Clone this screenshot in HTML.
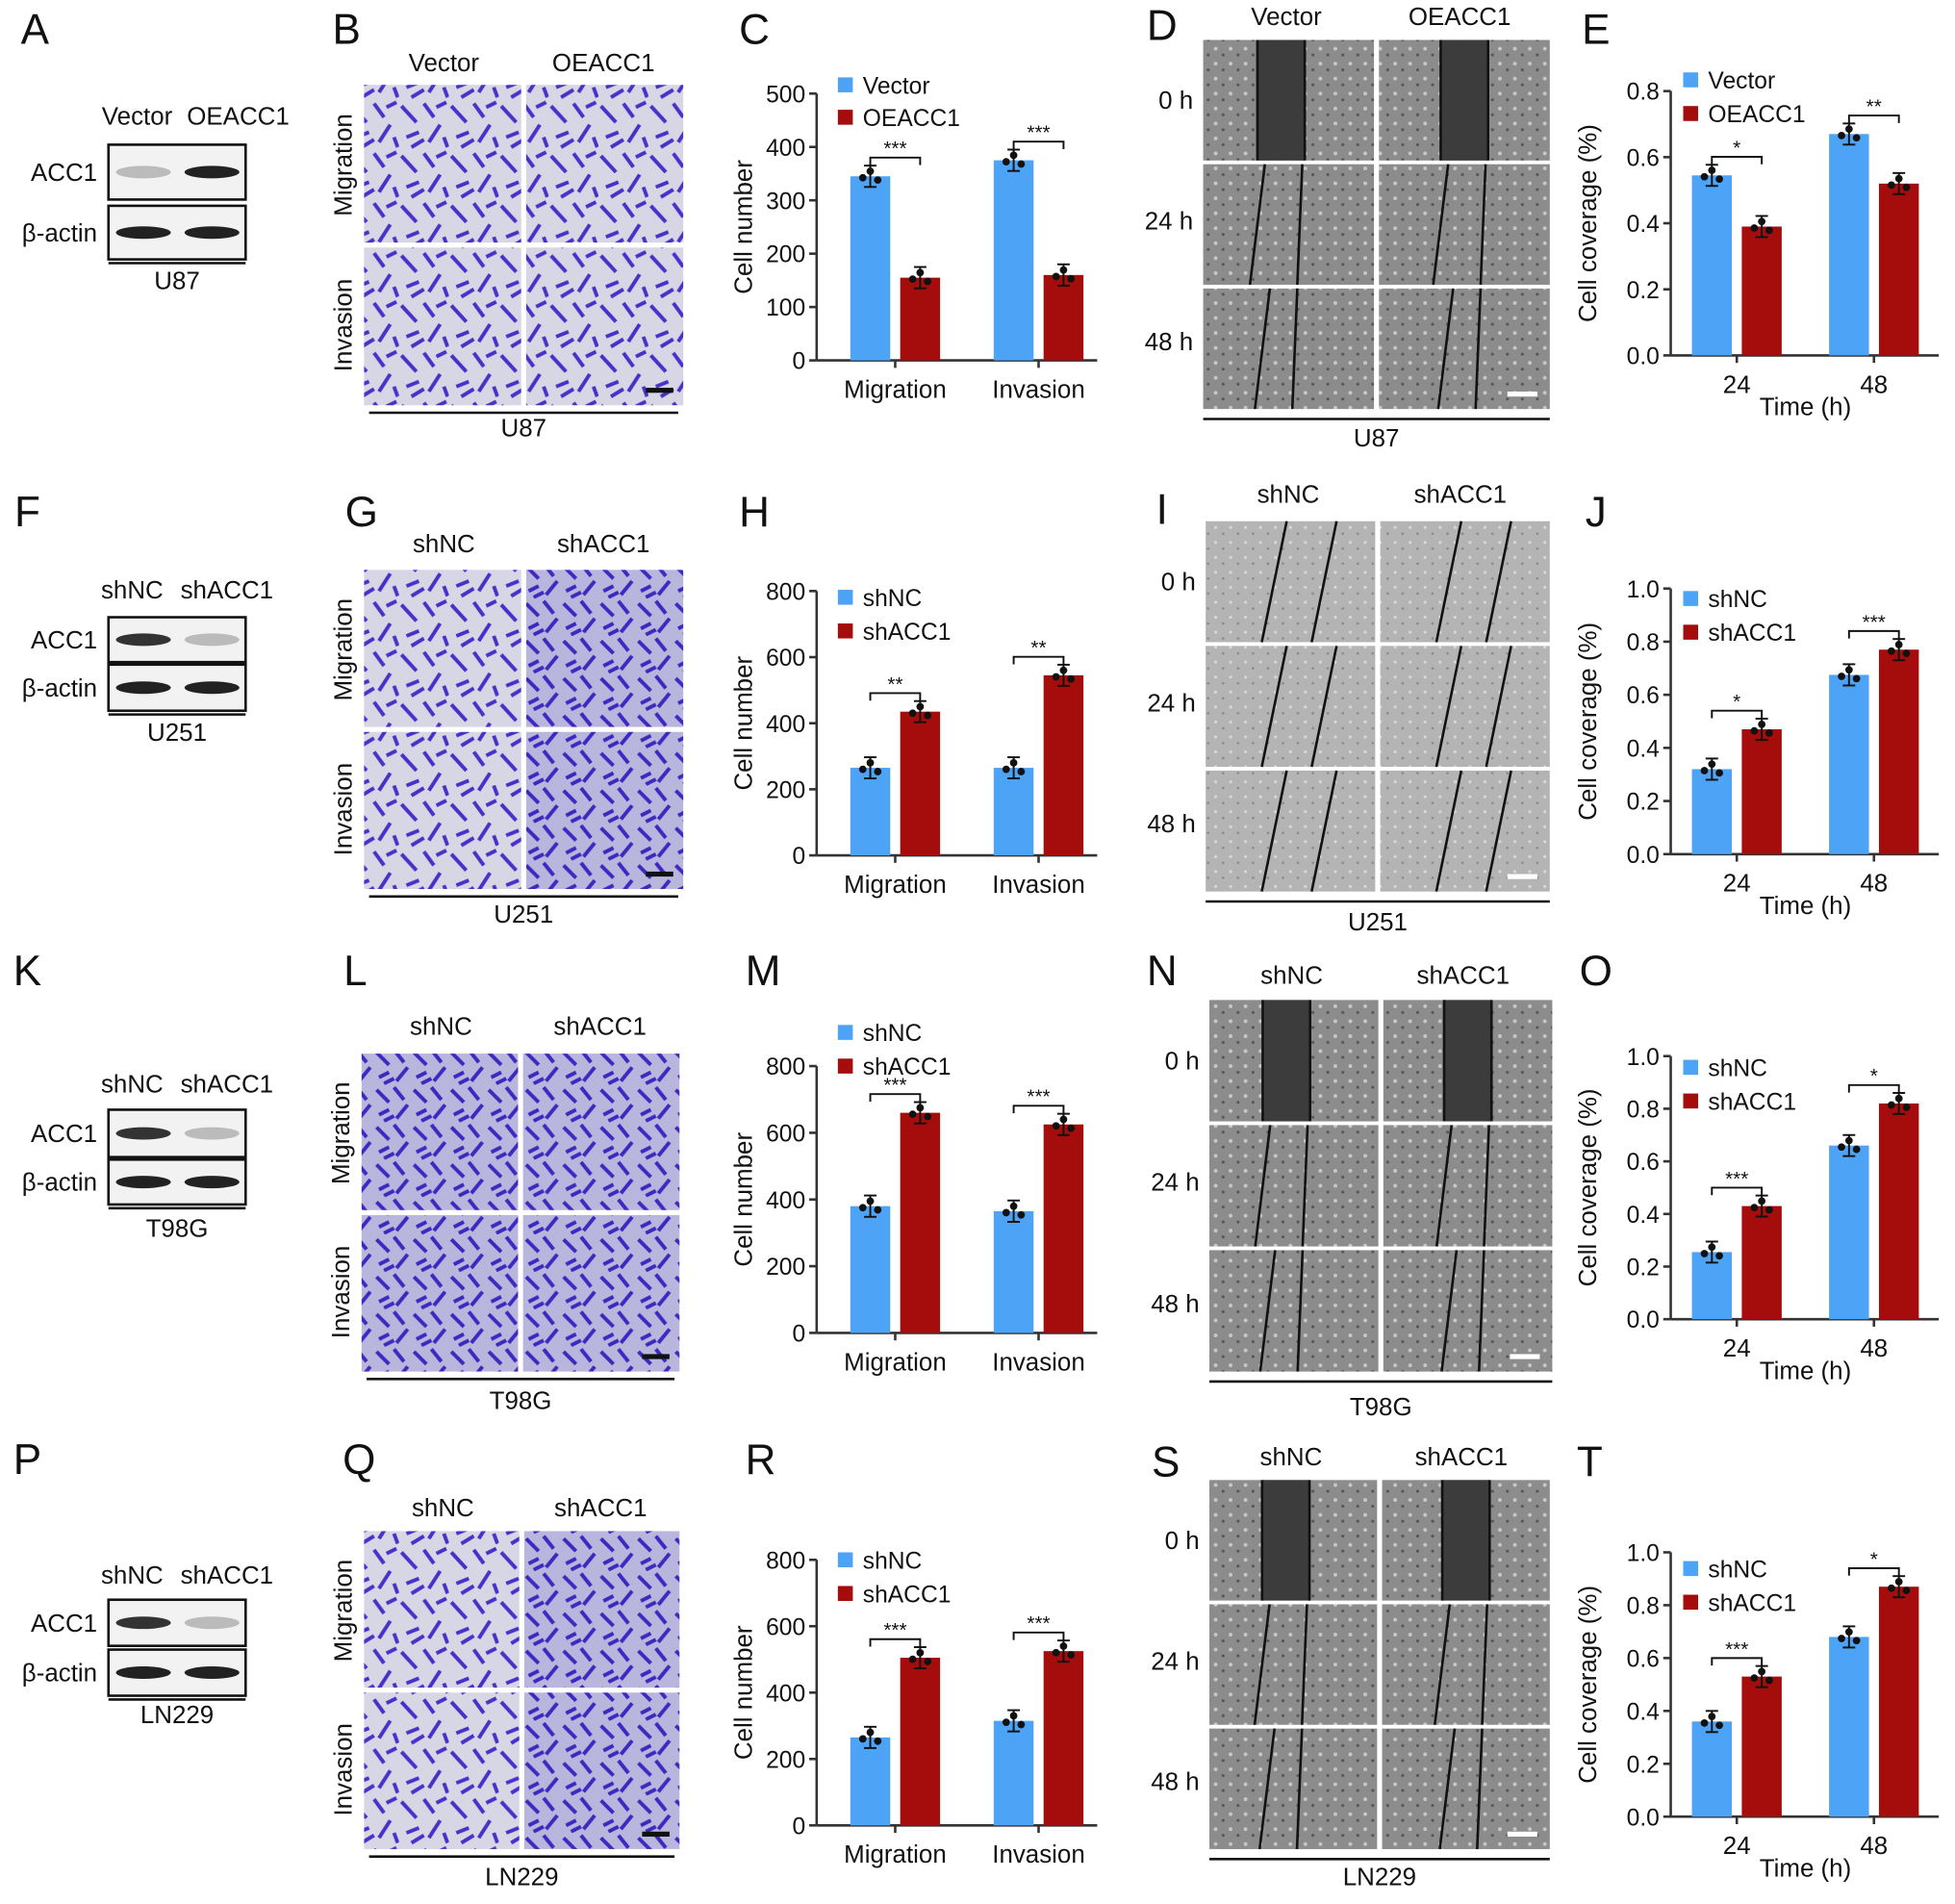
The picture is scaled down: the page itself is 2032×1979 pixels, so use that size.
<!DOCTYPE html>
<html><head><meta charset="utf-8"><style>
html,body{margin:0;padding:0;background:#fff}
svg{display:block;font-family:"Liberation Sans",Arial,sans-serif}
</style></head><body>
<svg id="fig" width="2032" height="1979" viewBox="0 0 1568 1527" xmlns="http://www.w3.org/2000/svg">
<defs>
<pattern id="tw" width="40" height="40" patternUnits="userSpaceOnUse">
<rect width="40" height="40" fill="#d6d6e4"/>
<path d="M2 5 L14 18 M20 3 L28 14 M33 20 L24 34 M6 30 L16 26 M10 38 L20 32 M30 6 L38 2 M36 30 L39 38" stroke="#4a30c8" stroke-width="3"/>
</pattern>
<pattern id="twd" width="30" height="30" patternUnits="userSpaceOnUse">
<rect width="30" height="30" fill="#b8b6dc"/>
<path d="M2 4 L12 14 M16 2 L24 12 M27 16 L18 27 M4 24 L12 20 M8 29 L16 25" stroke="#3e28c0" stroke-width="3"/>
</pattern>
<pattern id="sc" width="12" height="12" patternUnits="userSpaceOnUse">
<rect width="12" height="12" fill="#8c8c8c"/>
<circle cx="3" cy="3" r="1.5" fill="#c8c8c8"/><circle cx="9" cy="8" r="1.2" fill="#555"/>
</pattern>
<pattern id="scl" width="12" height="12" patternUnits="userSpaceOnUse">
<rect width="12" height="12" fill="#b4b4b4"/>
<circle cx="3" cy="3" r="1.2" fill="#d8d8d8"/><circle cx="9" cy="8" r="1" fill="#888"/>
</pattern>
</defs>
</svg>
<script>
// ---- bar chart data (cell number) ----
const numCategories = ["Migration", "Invasion"];
const numTicks = [[0,100,200,300,400,500],[0,200,400,600,800],[0,200,400,600,800],[0,200,400,600,800]];
const numCtrl = [[345,375],[265,265],[380,365],[265,315]];
const numTreat = [[155,160],[435,545],[660,625],[505,525]];
const numSig = [["***","***"],["**","**"],["***","***"],["***","***"]];
// ---- cell coverage data ----
const covCategories = ["24", "48"];
const covTicks = [[0,0.2,0.4,0.6,0.8],[0,0.2,0.4,0.6,0.8,1.0],[0,0.2,0.4,0.6,0.8,1.0],[0,0.2,0.4,0.6,0.8,1.0]];
const covCtrl = [[0.545,0.67],[0.32,0.675],[0.255,0.66],[0.36,0.68]];
const covTreat = [[0.39,0.52],[0.47,0.77],[0.43,0.82],[0.53,0.87]];
const covSig = [["*","**"],["*","***"],["***","*"],["***","*"]];
const legendNames = [["Vector","OEACC1"],["shNC","shACC1"],["shNC","shACC1"],["shNC","shACC1"]];
const cellLines = ["U87","U251","T98G","LN229"];

const NS="http://www.w3.org/2000/svg", svg=document.getElementById('fig');
const BLUE="#4da3f5", RED="#a50d0d";
function el(tag,attrs,parent){const e=document.createElementNS(NS,tag);for(const k in attrs)e.setAttribute(k,attrs[k]);(parent||svg).appendChild(e);return e;}
function txt(x,y,s,size,parent,anchor,rot){const t=el('text',{x:x,y:y,'font-size':size,'text-anchor':anchor||'middle',fill:'#111'},parent);if(rot)t.setAttribute('transform',`rotate(-90 ${x} ${y})`);t.textContent=s;return t;}

const letters=[["A",28,35],["B",278,35],["C",605,35],["D",932,32],["E",1280,35],
["F",22,422],["G",290,422],["H",605,422],["I",932,420],["J",1280,422],
["K",22,790],["L",285,790],["M",612,790],["N",932,790],["O",1280,790],
["P",22,1182],["Q",288,1182],["R",610,1182],["S",935,1184],["T",1275,1184]];
letters.forEach(l=>{const t=txt(l[1],l[2],l[0],34,null,'middle');

});

const rows=[
 {wb:{hy:100,b1:[116,160],b2:[165,208],lab:232},tw:{x:292,y:68,w:256,h:257,hy:57,ly:350},sc:{x:965,y:32,w:278,h:296,hy:20,ly:358},
  ch:{top:75,bot:289,ax:655},cv:{top:73,bot:285,ax:1340},lg:[68,94],clg:[64,91]},
 {wb:{hy:480,b1:[495,531],b2:[533,570],lab:594},tw:{x:292,y:457,w:256,h:256,hy:443,ly:740},sc:{x:967,y:418,w:276,h:297,hy:403,ly:746},
  ch:{top:474,bot:686,ax:655},cv:{top:472,bot:685,ax:1340},lg:[479,506],clg:[480,507]},
 {wb:{hy:876,b1:[890,928],b2:[930,966],lab:992},tw:{x:290,y:845,w:255,h:255,hy:830,ly:1130},sc:{x:970,y:802,w:275,h:298,hy:789,ly:1135},
  ch:{top:855,bot:1069,ax:655},cv:{top:847,bot:1058,ax:1340},lg:[828,855],clg:[856,883]},
 {wb:{hy:1270,b1:[1283,1320],b2:[1323,1360],lab:1382},tw:{x:292,y:1228,w:253,h:255,hy:1216,ly:1512},sc:{x:970,y:1187,w:273,h:296,hy:1175,ly:1512},
  ch:{top:1251,bot:1464,ax:655},cv:{top:1245,bot:1457,ax:1340},lg:[1251,1278],clg:[1258,1285]}
];

rows.forEach((r,i)=>{
 const names=legendNames[i];
 const g=el('g',{});
 
 
 txt(i==0?110:106,r.wb.hy,names[0],20,g);txt(i==0?191:182,r.wb.hy,names[1],20,g);
 txt(78,(r.wb.b1[0]+r.wb.b1[1])/2+7,"ACC1",20,g,'end');
 txt(78,(r.wb.b2[0]+r.wb.b2[1])/2+7,"β-actin",20,g,'end');
 [r.wb.b1,r.wb.b2].forEach((b,j)=>{
  el('rect',{x:87,y:b[0],width:110,height:b[1]-b[0],fill:'#f2f2f2',stroke:'#111','stroke-width':2},g);
  const cy=(b[0]+b[1])/2;
  const d1 = j==1?'#222':(i==0?'#bbb':'#333');
  const d2 = j==1?'#222':(i==0?'#222':'#bbb');
  el('ellipse',{cx:115,cy:cy,rx:22,ry:5,fill:d1},g);
  el('ellipse',{cx:170,cy:cy,rx:22,ry:5,fill:d2},g);
 });
 el('line',{x1:87,x2:197,y1:r.wb.b2[1]+3,y2:r.wb.b2[1]+3,stroke:'#111','stroke-width':2},g);
 txt(142,r.wb.lab,cellLines[i],20,g);

 const t=el('g',{});
 
 
 const w2=r.tw.w/2-2,h2=r.tw.h/2-2;
 [[0,0],[1,0],[0,1],[1,1]].forEach(([c,rr])=>{
  const dense=(i>0&&c==1)||(i==2);
  el('rect',{x:r.tw.x+c*(w2+4),y:r.tw.y+rr*(h2+4),width:w2,height:h2,fill:dense?'url(#twd)':'url(#tw)'},t);
 });
 el('rect',{x:r.tw.x+r.tw.w-30,y:r.tw.y+r.tw.h-14,width:22,height:4,fill:'#111'},t);
 txt(r.tw.x+r.tw.w*0.25,r.tw.hy,names[0],20,t);txt(r.tw.x+r.tw.w*0.75,r.tw.hy,names[1],20,t);
 txt(r.tw.x-10,r.tw.y+r.tw.h*0.25,"Migration",20,t,'middle',true);
 txt(r.tw.x-10,r.tw.y+r.tw.h*0.75,"Invasion",20,t,'middle',true);
 el('line',{x1:r.tw.x+4,x2:r.tw.x+r.tw.w-4,y1:r.tw.y+r.tw.h+6,y2:r.tw.y+r.tw.h+6,stroke:'#111','stroke-width':2},t);
 txt(r.tw.x+r.tw.w/2,r.tw.ly,cellLines[i],20,t);

 const s=el('g',{});
 
 
 const sw=r.sc.w/2-2,sh=r.sc.h/3-2;
 for(let c=0;c<2;c++)for(let rr=0;rr<3;rr++){
  const x=r.sc.x+c*(sw+4),y=r.sc.y+rr*(sh+3);
  el('rect',{x:x,y:y,width:sw,height:sh,fill:i==1?'url(#scl)':'url(#sc)'},s);
  const gapW=[38,26,18][rr];
  if(i==1){
   el('line',{x1:x+45,y1:y+sh,x2:x+65,y2:y,stroke:'#111','stroke-width':2},s);
   el('line',{x1:x+85,y1:y+sh,x2:x+105,y2:y,stroke:'#111','stroke-width':2},s);
  } else {
   const cx=x+sw/2+(c==0?-6:0);
   if(rr==0) el('rect',{x:cx-gapW/2,y:y,width:gapW,height:sh,fill:'#3c3c3c'},s);
   el('line',{x1:cx-gapW/2-(rr?12:0),y1:y+sh,x2:cx-gapW/2,y2:y,stroke:'#111','stroke-width':2},s);
   el('line',{x1:cx+gapW/2,y1:y+sh,x2:cx+gapW/2+(rr?4:0),y2:y,stroke:'#111','stroke-width':2},s);
  }
 }
 el('rect',{x:r.sc.x+r.sc.w-34,y:r.sc.y+r.sc.h-14,width:24,height:4,fill:'#fff'},s);
 txt(r.sc.x+r.sc.w*0.24,r.sc.hy,names[0],20,s);txt(r.sc.x+r.sc.w*0.74,r.sc.hy,names[1],20,s);
 ["0 h","24 h","48 h"].forEach((l,k)=>txt(r.sc.x-8,r.sc.y+sh*(k+0.5)+7,l,20,s,'end'));
 el('line',{x1:r.sc.x,x2:r.sc.x+r.sc.w,y1:r.sc.y+r.sc.h+8,y2:r.sc.y+r.sc.h+8,stroke:'#111','stroke-width':2},s);
 txt(r.sc.x+r.sc.w/2,r.sc.ly,cellLines[i],20,s);

 drawBars(r.ch,numTicks[i],numCategories,numCtrl[i],numTreat[i],numSig[i],names,r.lg,
   {x0:655,xEnd:880,centers:[718,833],lx:672,ytitle:"Cell number",tx:603,xtitle:null,fmt:v=>String(v)},'cell-number-chart-'+cellLines[i].toLowerCase());
 drawBars(r.cv,covTicks[i],covCategories,covCtrl[i],covTreat[i],covSig[i],names,r.clg,
   {x0:1340,xEnd:1555,centers:[1393,1503],lx:1350,ytitle:"Cell coverage (%)",tx:1280,xtitle:"Time (h)",fmt:v=>v.toFixed(1)},'cell-coverage-chart-'+cellLines[i].toLowerCase());
});

function drawBars(ch,ticks,cats,c1,c2,sig,names,lg,o,name){
 const g=el('g',{});
 
 
 const max=ticks[ticks.length-1];
 const y=v=>ch.bot-(v/max)*(ch.bot-ch.top);
 const ax=o.x0;
 el('line',{x1:ax,x2:ax,y1:ch.top,y2:ch.bot,stroke:'#333','stroke-width':2},g);
 el('line',{x1:ax,x2:o.xEnd,y1:ch.bot,y2:ch.bot,stroke:'#333','stroke-width':2},g);
 ticks.forEach(tv=>{el('line',{x1:ax-6,x2:ax,y1:y(tv),y2:y(tv),stroke:'#333','stroke-width':2},g);
  txt(ax-9,y(tv)+7,o.fmt(tv),19,g,'end');});
 txt(o.tx,(ch.top+ch.bot)/2,o.ytitle,20,g,'middle',true);
 cats.forEach((c,k)=>{
  const cx=o.centers[k];
  el('line',{x1:cx,x2:cx,y1:ch.bot,y2:ch.bot+6,stroke:'#333','stroke-width':2},g);
  txt(cx,ch.bot+30,c,20,g);
  [[c1[k],BLUE,cx-20],[c2[k],RED,cx+20]].forEach(([v,col,bx],m)=>{
   const b=el('rect',{x:bx-16,y:y(v),width:32,height:ch.bot-y(v),fill:col},g);
   
   
   const e=(ch.bot-ch.top)*0.04;
   el('line',{x1:bx,x2:bx,y1:y(v)-e,y2:y(v)+e,stroke:'#111','stroke-width':1.5},g);
   el('line',{x1:bx-5,x2:bx+5,y1:y(v)-e,y2:y(v)-e,stroke:'#111','stroke-width':1.5},g);
   el('line',{x1:bx-5,x2:bx+5,y1:y(v)+e,y2:y(v)+e,stroke:'#111','stroke-width':1.5},g);
   [-6,0,6].forEach((dx,q)=>el('circle',{cx:bx+dx,cy:y(v)+[2,-4,5][q]*(q==1?1:0.6),r:3,fill:'#111'},g));
  });
  const top=Math.min(y(c1[k]),y(c2[k]))-(ch.bot-ch.top)*0.07;
  el('path',{d:`M${cx-20} ${top+6} V${top} H${cx+20} V${top+6}`,fill:'none',stroke:'#111','stroke-width':1.5},g);
  txt(cx,top-2,sig[k],16,g);
 });
 names.forEach((n,m)=>{
  el('rect',{x:o.lx,y:lg[m]-6,width:12,height:12,fill:m?RED:BLUE},g);
  txt(o.lx+20,lg[m]+7,n,19,g,'start');
 });
 if(o.xtitle) txt((o.centers[0]+o.centers[1])/2,ch.bot+48,o.xtitle,20,g);
}
</script>
</body></html>
